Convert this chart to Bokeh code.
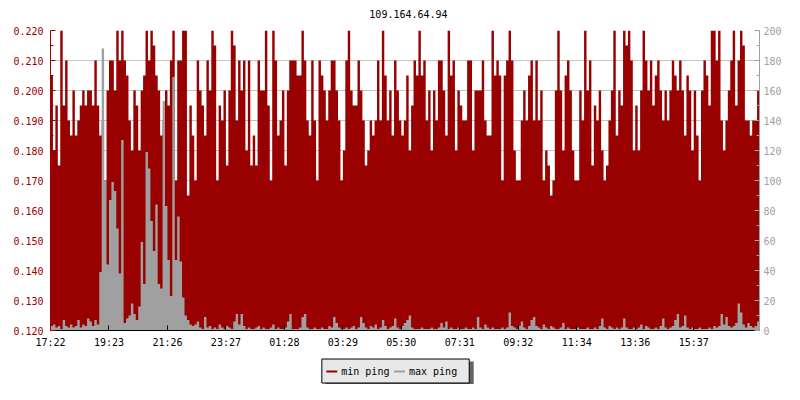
import numpy as np
from bokeh.plotting import figure
from bokeh.layouts import column
from bokeh.models import (Range1d, LinearAxis, SingleIntervalTicker, FixedTicker,
                          PrintfTickFormatter)
from bokeh.core.properties import value
from bokeh.embed import file_html
from bokeh.resources import INLINE

title_text = "109.164.64.94"
time_labels = ["17:22", "19:23", "21:26", "23:27", "01:28", "03:29",
               "05:30", "07:31", "09:32", "11:34", "13:36", "15:37"]
samples_per_label = 24

# min ping, in milliseconds (axis shows seconds)
min_ping_ms = [
    205, 180, 195, 175, 220, 195, 210, 190, 185, 200,
    185, 190, 195, 200, 195, 200, 200, 195, 210, 195,
    185, 190, 170, 200, 210, 210, 200, 220, 210, 220,
    210, 205, 190, 180, 200, 195, 180, 200, 205, 220,
    210, 220, 215, 205, 200, 185, 190, 200, 195, 210,
    220, 170, 210, 210, 220, 220, 165, 195, 185, 170,
    210, 200, 195, 185, 210, 200, 220, 215, 170, 195,
    190, 200, 175,
    200, 220, 215, 190, 210, 200, 210, 180, 210, 175,
    185, 175, 210, 200, 200, 220, 195, 170, 220, 210,
    185, 190, 200, 175, 200, 210, 210, 210, 205, 205,
    220, 210, 190, 185, 210, 190, 170, 210, 205, 200,
    190, 200, 210, 210, 200, 190, 170, 180, 210, 220,
    200, 195, 195, 210, 200, 190, 175, 180, 190, 185,
    190, 210, 190, 220, 205, 190, 200, 185, 210, 200,
    190, 185, 190,
    205, 180, 195, 210, 205, 220, 205, 210, 190, 200,
    180, 200, 190, 210, 210, 200, 185, 220, 205, 210,
    180, 200, 195, 190, 190, 210, 210, 180, 200, 200,
    200, 210, 190, 185, 185, 220, 205, 210, 205, 170,
    205, 210, 220, 210, 180, 170, 170, 190, 200, 190,
    205, 210, 190, 210, 190, 200, 170, 180, 175, 165,
    170, 200, 220, 200, 180, 205, 210, 200, 180, 170,
    170, 200, 190,
    220, 200, 210, 175, 195, 190, 200, 180, 170, 175,
    190, 200, 220, 185, 200, 195, 220, 215, 220, 210,
    180, 195, 180, 200, 220, 210, 200, 210, 195, 205,
    210, 200, 190, 200, 190, 200, 210, 205, 200, 210,
    200, 185, 205, 200, 180, 200, 185, 170, 200, 210,
    205, 195, 220, 220, 210, 220, 190, 180, 190, 200,
    210, 220, 195, 210, 220, 215, 190, 190, 185, 190,
    190, 200,
]

# max ping, in milliseconds (right axis)
max_ping_ms = [
    3, 4, 2, 3, 1, 7, 3, 2, 4, 2, 3, 7, 2, 4, 3, 8, 6, 3, 7, 4,
    39, 188, 100, 44, 87, 99, 93, 68, 38, 127,
    5, 8, 10, 18, 11, 7, 16, 59, 31, 119,
    108, 73, 53, 84, 31, 28, 153, 83, 47, 23,
    169, 47, 76, 46, 22, 10, 7, 4, 3, 4,
    6, 2, 1, 9, 2, 3, 1, 2, 1, 4,
    2, 1, 3, 2, 1, 6, 11, 4, 11, 3,
    1, 2, 1, 1, 2, 3, 1, 2, 1, 1,
    2, 4, 1, 2, 1, 1, 2, 6, 11, 1,
    1, 1, 2, 9, 11, 2, 1, 1, 2, 1,
    1, 2, 1, 1, 3, 2, 9, 5, 2, 1,
    1, 2, 1, 2, 3, 1, 2, 9, 5, 2,
    1, 3, 2, 4, 1, 2, 7, 3, 1, 2,
    3, 8, 2, 1, 3, 5, 7, 10, 2, 1,
    1, 1, 2, 1, 1, 1, 2, 1, 1, 2,
    5, 2, 6, 1, 2, 1, 1, 2, 1, 1,
    2, 1, 1, 2, 1, 9, 2, 1, 4, 2,
    1, 2, 1, 1, 1, 2, 1, 2, 12, 3,
    2, 1, 3, 6, 2, 1, 3, 7, 9, 3,
    2, 1, 4, 2, 1, 3, 2, 1, 1, 2,
    5, 1, 2, 1, 1, 1, 2, 1, 1, 1,
    2, 1, 1, 2, 1, 3, 8, 2, 1, 3,
    2, 1, 2, 1, 2, 8, 2, 1, 1, 2,
    1, 2, 4, 1, 3, 2, 1, 1, 2, 1,
    3, 8, 2, 1, 2, 3, 7, 11, 2, 3,
    10, 2, 1, 2, 1, 1, 2, 1, 1, 1,
    2, 1, 3, 2, 3, 11, 4, 9, 3, 2,
    3, 5, 18, 12, 4, 2, 5, 3, 2, 3, 6,
]

series_names = ["min ping", "max ping"]

FONT = "DejaVu Sans Mono"
RED = "#990000"
GREY = "#a0a0a0"
GRID = "#c4c4c4"
series_colors = [RED, GREY]

W = 784
BORDER_L, BORDER_R = 50, 22
TITLE_H, PLOT_H, LEG_H = 20, 330, 34

def strip(height):
    f = figure(width=W, height=height, output_backend="svg", toolbar_location=None,
               x_range=Range1d(BORDER_L, W - BORDER_R), y_range=Range1d(height, 0),
               x_axis_type=None, y_axis_type=None,
               min_border_left=BORDER_L, min_border_right=BORDER_R,
               min_border_top=0, min_border_bottom=0)
    f.outline_line_color = None
    f.background_fill_color = "white"
    f.border_fill_color = "white"
    return f

# ---------------- title strip ----------------
tf = strip(TITLE_H)
tf.text(x=[409.5], y=[13], text=[title_text], text_font=value(FONT),
        text_font_size="10px", text_color="black", text_align="center",
        text_baseline="alphabetic")

# ---------------- main chart ----------------
n = len(min_ping_ms)
xs = np.repeat(np.arange(n + 1), 2)[1:-1]
min_steps = np.repeat(np.array(min_ping_ms, dtype=float) / 1000.0, 2)
max_steps = np.repeat(np.array(max_ping_ms, dtype=float), 2)

p = figure(width=W, height=PLOT_H, output_backend="svg", toolbar_location=None,
           x_range=Range1d(0, n), y_range=Range1d(0.12, 0.22),
           min_border_left=BORDER_L, min_border_right=BORDER_R,
           min_border_top=10, min_border_bottom=20)
p.extra_y_ranges = {"ms": Range1d(0, 200)}
p.outline_line_color = None
p.background_fill_color = "white"
p.border_fill_color = "white"

p.varea(x=xs, y1=0.12, y2=min_steps, fill_color=RED, fill_alpha=1)
p.varea(x=xs, y1=0, y2=max_steps, fill_color=GREY, fill_alpha=1, y_range_name="ms")

# left axis (seconds)
left_ticks = np.round(np.arange(0.12, 0.2201, 0.01), 3).tolist()
left_minor = np.round(np.arange(0.125, 0.22, 0.01), 3).tolist()
left_ticker = FixedTicker(ticks=left_ticks, minor_ticks=left_minor)
ya = p.yaxis[0]
ya.ticker = left_ticker
ya.formatter = PrintfTickFormatter(format="%.3f")
ya.axis_line_color = RED
ya.major_tick_line_color = RED
ya.minor_tick_line_color = RED
ya.major_tick_in = 5
ya.major_tick_out = 0
ya.minor_tick_in = 3
ya.minor_tick_out = 0
ya.major_label_text_color = RED
ya.major_label_text_font = FONT
ya.major_label_text_font_size = "10px"
ya.major_label_standoff = 7

p.ygrid.ticker = left_ticker
p.ygrid.grid_line_color = GRID
p.xgrid.visible = False

# bottom axis (time)
xa = p.xaxis[0]
tick_pos = [k * samples_per_label for k in range(len(time_labels))]
xa.ticker = FixedTicker(ticks=tick_pos)
xa.major_label_overrides = {t: lab for t, lab in zip(tick_pos, time_labels)}
xa.axis_line_color = "black"
xa.major_tick_line_color = "black"
xa.major_tick_in = 5
xa.major_tick_out = 0
xa.minor_tick_line_color = None
xa.major_label_text_font = FONT
xa.major_label_text_font_size = "10px"
xa.major_label_text_color = "black"
xa.major_label_standoff = 6

# right axis (ms)
ra = LinearAxis(y_range_name="ms",
                ticker=SingleIntervalTicker(interval=20, num_minor_ticks=2))
ra.axis_line_color = GREY
ra.major_tick_line_color = GREY
ra.minor_tick_line_color = GREY
ra.major_tick_in = 5
ra.major_tick_out = 0
ra.minor_tick_in = 3
ra.minor_tick_out = 0
ra.major_label_text_color = GREY
ra.major_label_text_font = FONT
ra.major_label_text_font_size = "10px"
ra.major_label_standoff = 4
p.add_layout(ra, "right")

# ---------------- legend strip (box with drop shadow) ----------------
lf = strip(LEG_H)
box_l, box_t, box_w, box_h = 322, 8, 148, 24
shadow_dx, shadow_dy = 4, 3
item_offsets = [5, 73]
swatch_len, text_gap = 11, 4

lf.quad(left=[box_l + shadow_dx], right=[box_l + box_w + shadow_dx + 1],
        top=[box_t + shadow_dy], bottom=[box_t + box_h + shadow_dy + 1],
        fill_color="#646464", line_color=None)
lf.quad(left=[box_l + 0.5], right=[box_l + box_w + 0.5],
        top=[box_t + 0.5], bottom=[box_t + box_h + 0.5],
        fill_color="#e8e8e8", line_color="black", line_width=1)
sw_x0 = [box_l + o for o in item_offsets]
sw_x1 = [x + swatch_len for x in sw_x0]
sw_y = [box_t + 13] * len(series_names)
lf.segment(x0=sw_x0, y0=sw_y, x1=sw_x1, y1=sw_y, line_color=series_colors,
           line_width=2)
lf.text(x=[x + text_gap for x in sw_x1], y=[box_t + 12.5] * len(series_names),
        text=series_names, text_font=value(FONT), text_font_size="10px",
        text_color="black", text_align="left", text_baseline="alphabetic")

layout = column(tf, p, lf, spacing=0)
open("out.html", "w").write(file_html(layout, INLINE))
